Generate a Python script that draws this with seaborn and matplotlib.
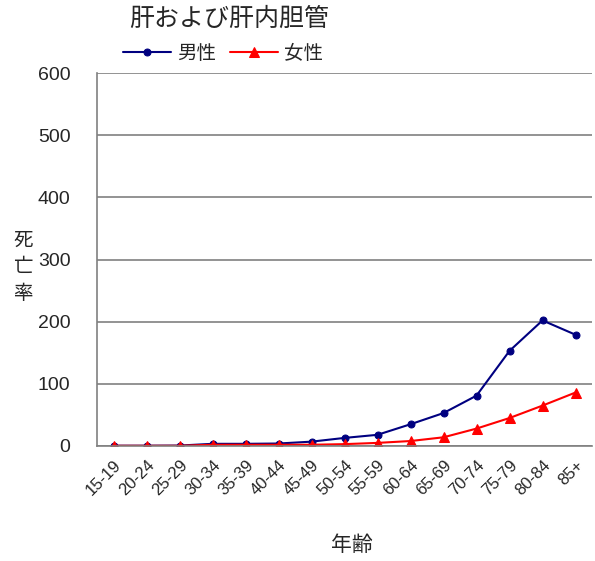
import matplotlib
matplotlib.use("Agg")
import matplotlib.pyplot as plt
import seaborn as sns
import pandas as pd
import numpy as np

ages = ["15-19", "20-24", "25-29", "30-34", "35-39", "40-44", "45-49", "50-54",
        "55-59", "60-64", "65-69", "70-74", "75-79", "80-84", "85+"]
male = [0.5, 0.5, 0.7, 3.5, 3.5, 4, 7, 13, 18, 35, 53, 81, 153, 202, 179]
female = [0.3, 0.3, 0.3, 2, 2, 2, 2, 3, 5, 8, 14, 28, 45, 65, 86]

sns.set_style("white")
plt.rcParams["font.family"] = ["Liberation Sans", "Noto Sans CJK JP"]

df = pd.DataFrame({"age": ages, "male": male, "female": female})
df["pos"] = np.arange(len(ages))

fig = plt.figure(figsize=(5.95, 5.61), dpi=100)
ax = fig.add_axes([97 / 595, 1 - 446 / 561, 495 / 595, 373 / 561])

sns.lineplot(data=df, x="pos", y="male", ax=ax, color="#000080", marker="o",
             markersize=5, markeredgecolor="#000080", linewidth=1.5, sort=False, label="男性")
sns.lineplot(data=df, x="pos", y="female", ax=ax, color="#ff0000", marker="^",
             markersize=7, markeredgecolor="#ff0000", linewidth=1.5, sort=False, label="女性")

ax.set_xlim(-0.5, len(ages) - 0.5)
ax.set_ylim(0, 600)
ax.set_yticks(range(0, 601, 100))
ax.yaxis.grid(True, color="#808080", linewidth=1.2)
ax.set_axisbelow(True)
for s in ["top", "right"]:
    ax.spines[s].set_visible(False)
for s in ["left", "bottom"]:
    ax.spines[s].set_color("#808080")
    ax.spines[s].set_linewidth(1.2)

ax.set_xticks(df["pos"])
ax.set_xticklabels(ages, rotation=45, ha="right", rotation_mode="anchor", fontsize=12)
ax.set_xticks(np.arange(len(ages) + 1) - 0.5, minor=True)
ax.tick_params(axis="x", which="major", length=0, pad=8)
ax.tick_params(axis="x", which="minor", length=5, color="#808080", width=1.2)
ax.tick_params(axis="y", length=0, labelsize=14, pad=19)

ax.set_xlabel("")
ax.set_ylabel("")
# vertical y label, one character per line
for ch, yp in zip("死亡率", [241, 267, 294]):
    fig.text(23 / 595, 1 - yp / 561, ch, fontsize=14, ha="center", va="center")
fig.text(352 / 595, 1 - 545 / 561, "年齢", fontsize=15, ha="center", va="center")
fig.text(229 / 595, 1 - 19 / 561, "肝および肝内胆管", fontsize=18, ha="center", va="center")

ax.legend_.remove()
handles, labels = ax.get_legend_handles_labels()
fig.legend(handles, labels, loc="center", bbox_to_anchor=(223 / 595, 1 - 54 / 561), ncol=2,
           frameon=False, fontsize=14, handlelength=2.5, columnspacing=0.7, handletextpad=0.3)

fig.savefig("out.png", dpi=100)
